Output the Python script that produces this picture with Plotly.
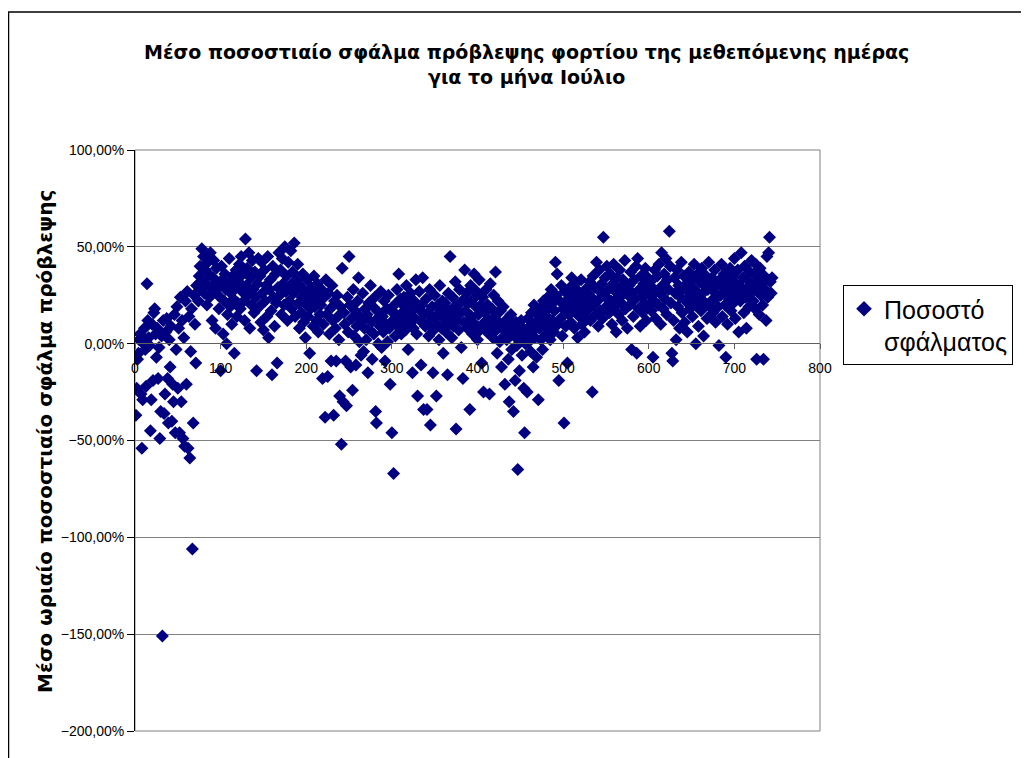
import plotly.graph_objects as go

# Hourly percentage error for July, one list per day (24 hours each), in %
day01 = [-37, -23, -8, -5, 2, 5, -26, -54, -29, 0, 8, -3, -22, 31, 12, 3, -1, -45, -29, 10, -19, 16, 18, 5]
day02 = [-7, 8, -18, -2, -49, -35, 4, -151, 12, -36, -26, 6, 13, -18, -41, 2, -12, 9, -40, -21, -30, 15, -46, -3]
day03 = [19, -23, 8, -46, 24, -30, 12, -49, 3, -53, 22, -21, 27, -54, 14, -59, -4, 18, -106, -41, 25, 10, -10, 30]
day04 = [30, 22, 35, 40, 28, 49, 33, 45, 26, 38, 31, 20, 42, 36, 24, 47, 29, 12, 34, 43, 27, 8, 39, 32]
day05 = [25, 18, 30, -14, 40, 33, 5, 22, 36, 28, 0, 15, 31, 44, 19, 26, 10, 35, 23, -5, 29, 38, 14, 21]
day06 = [32, 41, 18, 45, 27, 36, 22, 12, 54, 30, 39, 25, 47, 8, 34, 20, 43, 28, 16, 37, 24, -14, 31, 44]
day07 = [19, 35, 11, 42, 26, 7, 38, 22, 30, 14, 45, 3, 28, 33, 17, -16, 40, 24, 9, 36, 21, -10, 29, 47]
day08 = [25, 38, 15, 44, 31, 20, 50, 27, 35, 12, 42, 22, 30, 48, 18, 37, 26, 52, 14, 33, 28, 41, 21, 8]
day09 = [30, 16, 24, 36, 11, 27, 3, 20, 33, 14, 25, -5, 18, 29, 22, 9, 35, 19, 26, 12, 31, 6, 23, 15]
day10 = [20, 28, -18, 10, 24, -38, 33, 15, -17, 26, 5, 18, -9, 30, 12, -37, 22, 8, -9, 25, 14, 2, -27, 19]
day11 = [-52, 39, -30, 16, 10, -9, -32, 24, 6, 45, 20, -12, 13, -24, 28, 4, 17, -11, 9, 22, 34, 1, 14, -6]
day12 = [12, 26, -4, 8, 18, 2, 15, -15, 21, 7, 30, 11, -8, 19, 5, 24, -35, -41, 13, 0, 16, 9, 27, -2]
day13 = [14, 6, 22, -9, 10, 18, 1, 25, 8, -21, 17, -46, 12, -67, 20, 4, 15, 28, 9, 36, 13, 23, 5, 16]
day14 = [11, 24, 19, 7, 30, 14, -3, 21, 10, 26, 17, -15, 8, 22, 13, 33, 5, -27, 18, 27, 12, -11, 20, 34]
day15 = [-34, 15, 9, 23, -34, 16, 4, 28, -42, 12, 19, -15, 7, 25, 14, -27, 10, 20, 2, 30, 17, 8, 22, -5]
day16 = [13, 21, 6, 18, -16, 26, 10, 45, 15, 3, 24, 9, 19, 32, -44, 12, 20, 7, 28, 16, -2, 22, -18, 11]
day17 = [38, 17, 26, 8, 21, 12, -34, 30, 14, 5, 23, 36, 10, 19, 27, 2, 15, 33, 7, 20, -10, 24, -25, 11]
day18 = [16, 28, 6, 20, 12, -26, 31, 9, 18, 3, 25, 14, 37, 7, -5, 22, 11, 1, 17, -12, 8, 19, 4, -21]
day19 = [10, 2, 13, -8, -30, 6, 15, -3, 9, -35, 4, -19, 11, -1, -65, 7, -14, 3, 12, -6, 8, -23, -46, 0]
day20 = [5, -25, 13, 1, 9, -4, 16, 6, -12, 20, 3, 11, -7, 15, -29, 8, 18, 2, 12, -3, 22, 10, 17, 5]
day21 = [14, 24, 8, 19, 2, 28, 12, 21, 6, 17, 42, 25, 36, 10, -19, 22, 13, 30, 4, 18, -41, 27, 9, 20]
day22 = [-10, 23, 15, 29, 11, 34, 19, 25, 8, 31, 16, 22, 3, 27, 14, 20, 33, 10, 24, 17, 6, 28, 21, 13]
day23 = [26, 18, 32, 12, 24, -25, 35, 20, 29, 15, 42, 22, 9, 38, 27, 17, 31, 13, 55, 25, 34, 19, 40, 23]
day24 = [28, 16, 36, 22, 10, 31, 41, 19, 27, 6, 34, 24, 15, 38, 29, 21, 12, 33, 26, 43, 18, 30, 8, 25]
day25 = [30, 20, 37, -3, 26, 14, 33, 23, 40, -5, 44, 18, 28, 9, 35, 24, 16, 31, 21, 39, 12, 27, 34, 19]
day26 = [25, 32, 17, 29, -7, 22, 38, 13, 27, 35, 20, 41, 26, 10, 47, 30, 18, 36, 23, 44, 15, 33, 28, 58]
day27 = [40, 21, -5, -9, 12, 34, 26, 2, 38, 19, 30, 8, 24, 42, 16, 28, 35, 11, 22, 31, 6, 27, 37, 18]
day28 = [24, 33, 14, 29, 41, 20, 0, 27, 36, 9, 23, 32, 17, 39, 26, 4, 30, 21, 35, 13, 28, 42, 19, 31]
day29 = [22, 34, 16, 27, 38, 11, 30, 24, 19, -1, 33, 25, 41, 14, 29, 36, 20, -7, 26, 10, 32, 23, 39, 17]
day30 = [28, 35, 21, 44, 13, 31, 25, 38, 6, 30, 22, 47, 27, 34, 16, 40, 24, 8, 33, 29, 19, 37, 26, 43]
day31 = [30, 22, 36, 18, 41, -8, 27, 33, 15, 39, 25, 31, 20, -8, 35, 28, 12, 45, 24, 47, 55, 32, 26, 34]

days = [day01, day02, day03, day04, day05, day06, day07, day08, day09, day10,
        day11, day12, day13, day14, day15, day16, day17, day18, day19, day20,
        day21, day22, day23, day24, day25, day26, day27, day28, day29, day30, day31]

error_pct = [v for d in days for v in d]
hours = list(range(1, len(error_pct) + 1))
error = [v / 100.0 for v in error_pct]

title_text = "<b>Μέσο ποσοστιαίο σφάλμα πρόβλεψης φορτίου της μεθεπόμενης ημέρας<br>για το μήνα Ιούλιο</b>"
ytitle_text = "<b>Μέσο ωριαίο ποσοστιαίο σφάλμα πρόβλεψης</b>"
series_name = "Ποσοστό<br>σφάλματος"

W, H = 1029, 758
OFF = 8                         # page offset of the figure (body margin)
L, R, T, B = 135, 820, 150, 731  # plot area in page pixels


def px_x(px):
    return (px - L) / (R - L)


def px_y(py):
    return (B - py) / (B - T)


ARIAL = "Liberation Sans, Arial, sans-serif"

fig = go.Figure()
fig.add_trace(go.Scatter(
    x=hours, y=error, mode="markers", name=series_name,
    marker=dict(symbol="diamond", size=10, color="#000080", line=dict(width=0)),
    showlegend=True,
))

fig.update_layout(
    width=W, height=H,
    margin=dict(l=L - OFF, r=W - (R - OFF), t=T - OFF, b=H - (B - OFF), pad=0),
    paper_bgcolor="white", plot_bgcolor="white",
    separators=",.",
    font=dict(family=ARIAL, color="black", size=14),
    showlegend=True,
    legend=dict(
        x=px_x(843), y=px_y(285), xanchor="left", yanchor="top",
        bordercolor="black", borderwidth=1, bgcolor="white",
        font=dict(size=25, family=ARIAL),
        itemsizing="constant", valign="top",
    ),
    xaxis=dict(
        range=[0, 800], dtick=100, tick0=0,
        showgrid=False, zeroline=False,
        showline=True, linecolor="#606060", linewidth=1,
        ticks="outside", ticklen=5, tickcolor="#606060",
        anchor="free", position=px_y(343),
        tickfont=dict(size=14), ticklabelstandoff=7,
    ),
    yaxis=dict(
        range=[-2, 1], dtick=0.5, tick0=0, tickformat=".2%",
        showgrid=True, gridcolor="#808080", gridwidth=1,
        zeroline=False,
        showline=True, linecolor="black", linewidth=1,
        ticks="outside", ticklen=7, tickcolor="black",
        tickfont=dict(size=14),
    ),
)

# plot-area frame (grey) and chart-area border (black)
fig.add_shape(type="rect", xref="paper", yref="paper", x0=0, y0=0, x1=1, y1=1,
              line=dict(color="#808080", width=1), layer="below")
fig.add_shape(type="rect", xref="paper", yref="paper",
              x0=px_x(OFF + 0.5), y0=px_y(12), x1=px_x(1045), y1=px_y(775),
              line=dict(color="black", width=1.5), layer="below")

fig.add_annotation(text=title_text, xref="paper", yref="paper",
                   x=px_x(526), y=px_y(64), xanchor="center", yanchor="middle",
                   showarrow=False,
                   font=dict(size=19, family="DejaVu Sans, sans-serif", color="black"))
fig.add_annotation(text=ytitle_text, xref="paper", yref="paper",
                   x=px_x(45), y=px_y(442), xanchor="center", yanchor="middle",
                   textangle=-90, showarrow=False,
                   font=dict(size=20, family="DejaVu Sans, sans-serif", color="black"))

fig.write_html("out.html")
